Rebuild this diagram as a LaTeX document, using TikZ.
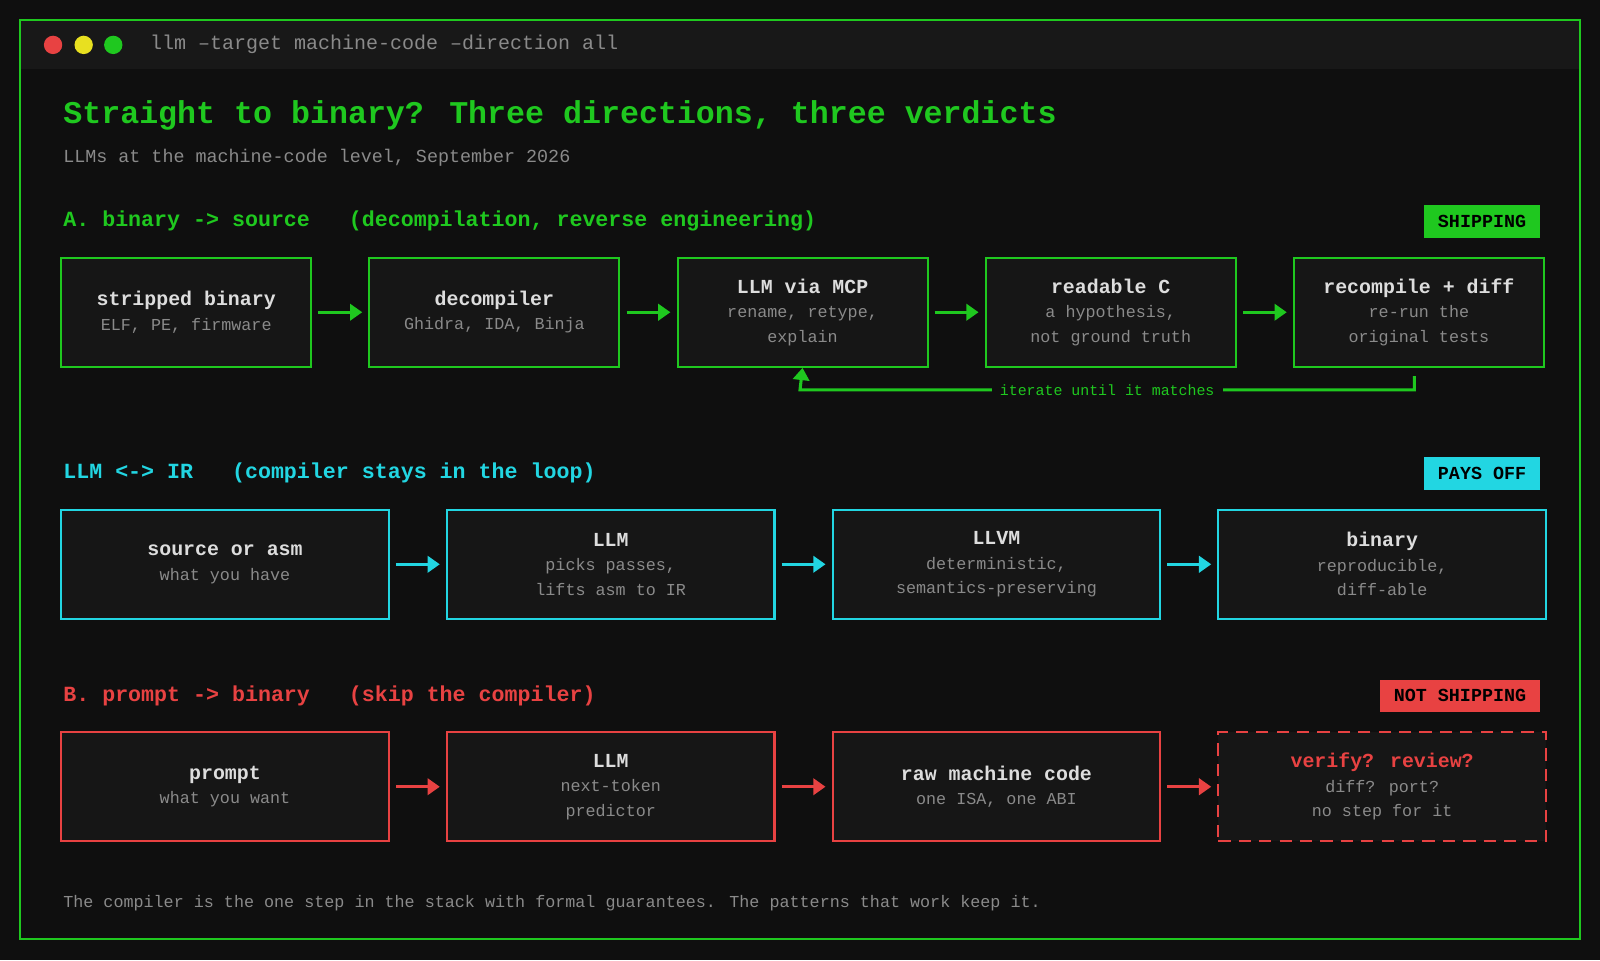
\documentclass[tikz,border=0pt]{standalone}
\usepackage{fontspec}
\setmainfont{Liberation Mono}
\usetikzlibrary{positioning,arrows.meta}
\definecolor{bg}{HTML}{0F0F0F}
\definecolor{bar}{HTML}{181818}
\definecolor{boxbg}{HTML}{161616}
\definecolor{termgreen}{HTML}{1FC81F}
\definecolor{termcyan}{HTML}{22D6E2}
\definecolor{termred}{HTML}{E84242}
\definecolor{termyellow}{HTML}{E8E020}
\definecolor{ttl}{HTML}{DDDDDD}
\definecolor{dim}{HTML}{8A8A8A}
\newcommand{\boxtext}[2]{{\fontsize{9.75}{12}\selectfont\bfseries\color{ttl}#1}\\#2}
\tikzset{
  stage/.style={rectangle, draw=#1, line width=1pt, fill=boxbg, minimum height=53.5pt,
    align=center, text=dim, font=\fontsize{8.2}{12}\selectfont, inner sep=0pt},
  wideA/.style={minimum width=122.5pt},
  wideB/.style={minimum width=160.5pt},
  flow/.style={draw=#1, line width=1.5pt, shorten <=3pt, shorten >=3pt,
    -{Triangle[length=6pt,width=8pt]}},
  badge/.style={fill=#1, text=black, font=\fontsize{9}{10}\selectfont\bfseries,
    minimum height=16pt, inner xsep=7pt, anchor=east},
  heading/.style={anchor=base west, font=\fontsize{10.6}{12}\selectfont\bfseries, text=#1},
}
\begin{document}
\begin{tikzpicture}[x=0.5pt, y=-0.5pt]
% background and window
\fill[bg] (0,0) rectangle (1568,941);
\fill[bar] (21,21) rectangle (1547,68);
\draw[termgreen, line width=1pt] (20,20) rectangle (1548,920);
\fill[termred] (52,44) circle (9);
\fill[termyellow] (82,44) circle (9);
\fill[termgreen] (111,44) circle (9);
\node[anchor=west, text=dim, font=\fontsize{9.8}{12}\selectfont] (cmd) at (140,43) {llm --target machine-code --direction all};
\node[anchor=base west, text=termgreen, font=\fontsize{15.5}{18}\selectfont\bfseries] (title) at (55,121) {Straight to binary? Three directions, three verdicts};
\node[anchor=base west, text=dim, font=\fontsize{9}{12}\selectfont] (subtitle) at (55,159) {LLMs at the machine-code level, September 2026};

% A: binary -> source
\node[heading=termgreen] (headA) at (55,222) {A. binary -> source\ \ \ (decompilation, reverse engineering)};
\node[badge=termgreen] (shipA) at (1510,217) {SHIPPING};
\node[stage=termgreen, wideA] (bin) at (182.5,306) {\boxtext{stripped binary}{ELF, PE, firmware}};
\node[stage=termgreen, wideA, right=27.5pt of bin] (dec) {\boxtext{decompiler}{Ghidra, IDA, Binja}};
\node[stage=termgreen, wideA, right=27.5pt of dec] (mcp) {\boxtext{LLM via MCP}{rename, retype,\\explain}};
\node[stage=termgreen, wideA, right=27.5pt of mcp] (readc) {\boxtext{readable C}{a hypothesis,\\not ground truth}};
\node[stage=termgreen, wideA, right=27.5pt of readc] (recomp) {\boxtext{recompile + diff}{re-run the\\original tests}};
\draw[flow=termgreen] (bin) -- (dec);
\draw[flow=termgreen] (dec) -- (mcp);
\draw[flow=termgreen] (mcp) -- (readc);
\draw[flow=termgreen] (readc) -- (recomp);
\coordinate (loopR) at (1386,382);
\coordinate (loopL) at (784,382);
\draw[termgreen, line width=1.5pt, shorten <=4pt, -{Triangle[length=6pt,width=8pt]}]
  (recomp.south -| loopR) -- (loopR) -- node[fill=bg, text=termgreen, inner xsep=4pt,
  font=\fontsize{7.3}{9}\selectfont] {iterate until it matches} (loopL) -- (mcp.south);

% LLM <-> IR
\node[heading=termcyan] (headIR) at (55,469) {LLM <-> IR\ \ \ (compiler stays in the loop)};
\node[badge=termcyan] (shipIR) at (1510,464) {PAYS OFF};
\node[stage=termcyan, wideB] (src) at (220.5,553) {\boxtext{source or asm}{what you have}};
\node[stage=termcyan, wideB, right=27.5pt of src] (llmIR) {\boxtext{LLM}{picks passes,\\lifts asm to IR}};
\node[stage=termcyan, wideB, right=27.5pt of llmIR] (llvm) {\boxtext{LLVM}{deterministic,\\semantics-preserving}};
\node[stage=termcyan, wideB, right=27.5pt of llvm] (binIR) {\boxtext{binary}{reproducible,\\diff-able}};
\draw[flow=termcyan] (src) -- (llmIR);
\draw[flow=termcyan] (llmIR) -- (llvm);
\draw[flow=termcyan] (llvm) -- (binIR);

% B: prompt -> binary
\node[heading=termred] (headB) at (55,687) {B. prompt -> binary\ \ \ (skip the compiler)};
\node[badge=termred] (shipB) at (1510,682) {NOT SHIPPING};
\node[stage=termred, wideB] (prompt) at (220.5,771) {\boxtext{prompt}{what you want}};
\node[stage=termred, wideB, right=27.5pt of prompt] (llmB) {\boxtext{LLM}{next-token\\predictor}};
\node[stage=termred, wideB, right=27.5pt of llmB] (raw) {\boxtext{raw machine code}{one ISA, one ABI}};
\node[stage=termred, wideB, dashed, dash pattern=on 6pt off 4pt, right=27.5pt of raw] (verify)
  {{\fontsize{9.75}{12}\selectfont\bfseries\color{termred}verify? review?}\\diff? port?\\no step for it};
\draw[flow=termred] (prompt) -- (llmB);
\draw[flow=termred] (llmB) -- (raw);
\draw[flow=termred] (raw) -- (verify);

\node[anchor=base west, text=dim, font=\fontsize{8.2}{10}\selectfont] (footer) at (55,889)
  {The compiler is the one step in the stack with formal guarantees. The patterns that work keep it.};
\end{tikzpicture}
\end{document}
